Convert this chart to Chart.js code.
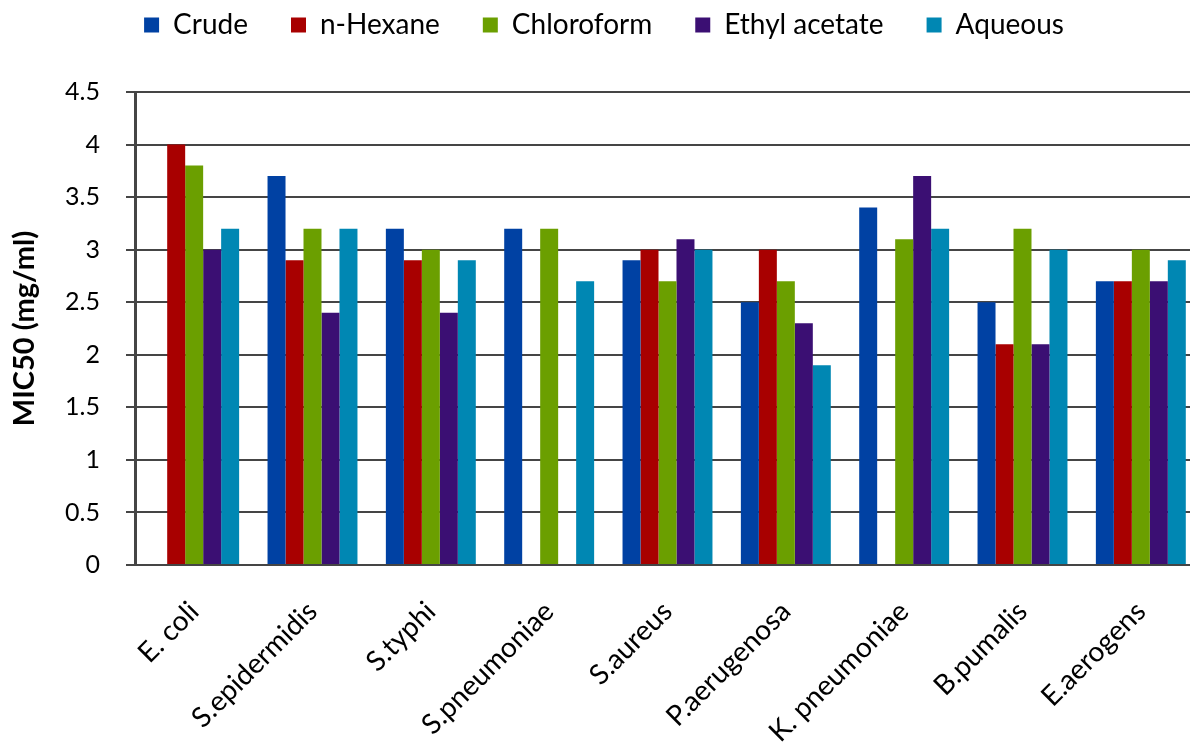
<!DOCTYPE html>
<html>
<head>
<meta charset="utf-8">
<script src="https://cdn.jsdelivr.net/npm/chart.js@4/dist/chart.umd.min.js"></script>
<style>
  html, body { margin: 0; padding: 0; background: #fff; overflow: hidden; }
  #wrap { position: absolute; left: 0; top: -32px; width: 1200px; height: 787px; }
</style>
</head>
<body>
<div id="wrap"><canvas id="c" width="1200" height="787"></canvas></div>
<script>
// Test organisms
const organisms = ['E. coli', 'S.epidermidis', 'S.typhi', 'S.pneumoniae', 'S.aureus',
                   'P.aerugenosa', 'K. pneumoniae', 'B.pumalis', 'E.aerogens'];

// MIC50 (mg/ml) per extract; null = not determined
const crude         = [null, 3.7, 3.2, 3.2, 2.9, 2.5, 3.4, 2.5, 2.7];
const nHexane       = [4.0, 2.9, 2.9, null, 3.0, 3.0, null, 2.1, 2.7];
const chloroform    = [3.8, 3.2, 3.0, 3.2, 2.7, 2.7, 3.1, 3.2, 3.0];
const ethylAcetate  = [3.0, 2.4, 2.4, null, 3.1, 2.3, 3.7, 2.1, 2.7];
const aqueous       = [3.2, 3.2, 2.9, 2.7, 3.0, 1.9, 3.2, 3.0, 2.9];

const yTicks = [0, 0.5, 1, 1.5, 2, 2.5, 3, 3.5, 4, 4.5];

const series = [
  { label: 'Crude',         data: crude,        color: '#0041A3' },
  { label: 'n-Hexane',      data: nHexane,      color: '#A80000' },
  { label: 'Chloroform',    data: chloroform,   color: '#6B9F00' },
  { label: 'Ethyl acetate', data: ethylAcetate, color: '#3B0F73' },
  { label: 'Aqueous',       data: aqueous,      color: '#0087B3' }
];

// extra room between the legend row and the plot, and a small nudge right
const legendGap = {
  id: 'legendGap',
  beforeInit(chart) {
    const fit = chart.legend.fit;
    chart.legend.fit = function () {
      fit.call(this);
      this.height += 43;
    };
  },
  afterLayout(chart) {
    chart.legend.left += 4;
    chart.legend.right += 4;
  }
};

new Chart(document.getElementById('c'), {
  type: 'bar',
  data: {
    labels: organisms,
    datasets: series.map(s => ({
      label: s.label,
      data: s.data,
      backgroundColor: s.color,
      borderWidth: 0,
      categoryPercentage: 0.76,
      barPercentage: 1.0
    }))
  },
  options: {
    responsive: false,
    animation: false,
    layout: { padding: { left: 0, right: 0, top: 0, bottom: 0 } },
    plugins: {
      tooltip: { enabled: false },
      legend: {
        position: 'top',
        labels: {
          boxWidth: 15,
          boxHeight: 15,
          padding: 43,
          color: '#000',
          font: { family: 'Lato', size: 28 }
        }
      }
    },
    scales: {
      x: {
        grid: { display: false, drawTicks: false },
        border: { display: true, color: '#454545', width: 2 },
        ticks: {
          autoSkip: false,
          maxRotation: 45,
          minRotation: 45,
          padding: 30,
          color: '#000',
          font: { family: 'Lato', size: 28 }
        },
        afterFit(scale) { scale.height = 190; }
      },
      y: {
        min: 0,
        max: 4.5,
        afterBuildTicks(scale) { scale.ticks = yTicks.map(v => ({ value: v })); },
        grid: {
          color: '#454545',
          lineWidth: 2,
          drawTicks: true,
          tickLength: 9,
          tickColor: '#454545'
        },
        border: { display: true, color: '#454545', width: 3 },
        ticks: {
          padding: 26,
          color: '#000',
          font: { family: 'Lato', size: 25 },
          callback: v => String(v)
        },
        title: {
          display: true,
          text: 'MIC50 (mg/ml)',
          color: '#000',
          font: { family: 'Lato', size: 29, weight: 'bold' },
          padding: { top: 7, bottom: 0 }
        },
        afterFit(scale) { scale.width = 135; }
      }
    }
  },
  plugins: [legendGap]
});
</script>
</body>
</html>
